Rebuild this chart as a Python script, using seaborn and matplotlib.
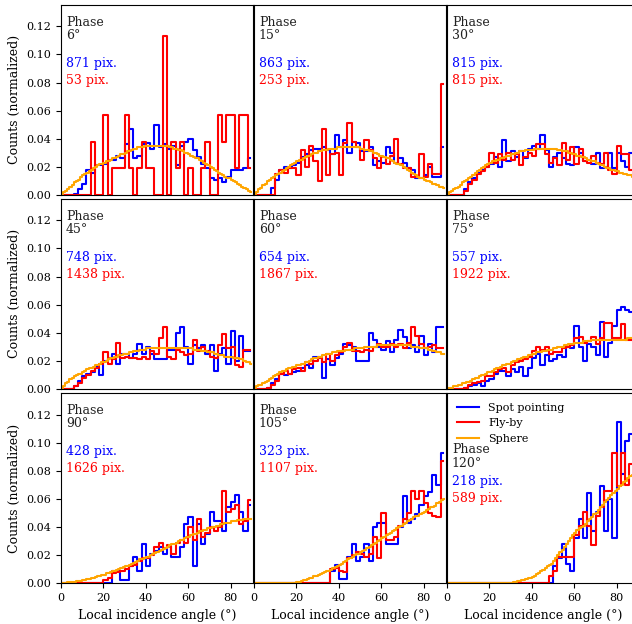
import numpy as np
import matplotlib
matplotlib.use("Agg")
import matplotlib.pyplot as plt
import seaborn as sns

plt.rcParams['font.family'] = ['DejaVu Serif']

# ---------------- data ----------------
phases = [6, 15, 30, 45, 60, 75, 90, 105, 120]
spot_pix = [871, 863, 815, 748, 654, 557, 428, 323, 218]
flyby_pix = [53, 253, 815, 1438, 1867, 1922, 1626, 1107, 589]

# 2-degree bins (0-2 ... 88-90) for Spot pointing / Fly-by, 1-degree bins for Sphere
angle_2deg = np.arange(1, 90, 2)
angle_1deg = np.arange(0.5, 90, 1)

spot_06 = [0, 0, 0, .001, .004, .008, .018, .016, .021, .021, .022, .025, .025, .028, .026, .036, .047, .026, .028, .036,
           .037, .033, .050, .034, .036, .033, .035, .021, .035, .038, .040, .032, .027, .022, .019, .012, .011, .012, .009, .013,
           .018, .018, .018, .019, .026]
flyby_06 = [0, 0, 0, 0, 0, 0, 0, .0377, 0, 0, .0566, 0, .0189, .0189, .0189, .0566, .0189, 0, .0189, .0377,
            .0189, .0189, 0, 0, .1132, 0, .0377, .0189, .0377, 0, .0189, 0, 0, .0189, .0377, 0, 0, .0566, .0377, .0566,
            .0566, .0189, .0566, .0566, .0189]
sphere_06 = [.001, .002, .003, .004, .006, .007, .009, .010, .011, .013,
             .014, .015, .016, .017, .018, .019, .020, .021, .022, .022,
             .023, .024, .024, .025, .026, .026, .027, .028, .029, .029,
             .030, .031, .031, .032, .033, .033, .034, .034, .034, .035,
             .035, .035, .035, .035, .035, .035, .035, .035, .035, .035,
             .035, .034, .034, .033, .033, .032, .032, .031, .030, .030,
             .029, .028, .027, .026, .026, .025, .024, .023, .022, .021,
             .020, .019, .018, .017, .016, .015, .014, .013, .012, .012,
             .011, .010, .009, .008, .007, .006, .005, .004, .003, .002]

spot_15 = [0, 0, 0, 0, .005, .011, .018, .020, .019, .021, .023, .027, .029, .032, .033, .033, .034, .032, .029, .043,
           .034, .039, .030, .038, .037, .031, .031, .034, .021, .024, .023, .034, .030, .023, .026, .023, .019, .018, .012, .012,
           .014, .020, .013, .013, .034]
flyby_15 = [0, 0, 0, 0, 0, .015, .018, .016, .019, .019, .014, .032, .020, .035, .024, .010, .047, .014, .029, .030,
            .014, .037, .051, .038, .034, .025, .039, .032, .026, .019, .027, .022, .028, .040, .022, .019, .019, .013, .013, .029,
            .013, .022, .015, .015, .079]
sphere_15 = [.001, .002, .004, .005, .007, .008, .010, .011, .012, .013,
             .014, .015, .016, .017, .018, .019, .020, .021, .022, .023,
             .024, .025, .025, .026, .027, .028, .028, .029, .030, .030,
             .031, .031, .032, .032, .032, .033, .033, .033, .033, .034,
             .034, .034, .034, .034, .034, .034, .034, .034, .034, .034,
             .033, .033, .032, .032, .031, .031, .030, .030, .029, .028,
             .028, .027, .026, .026, .025, .024, .023, .022, .022, .021,
             .020, .019, .018, .017, .016, .015, .014, .013, .012, .012,
             .011, .010, .010, .009, .008, .008, .007, .006, .006, .005]

spot_30 = [0, 0, 0, 0, .004, .009, .012, .016, .018, .020, .022, .027, .020, .039, .024, .031, .027, .031, .026, .033,
           .035, .033, .043, .032, .020, .027, .030, .026, .022, .021, .034, .030, .024, .025, .022, .030, .019, .020, .030, .019,
           .030, .024, .020, .030, .030]
flyby_30 = [0, 0, 0, 0, .003, .008, .011, .015, .017, .020, .030, .023, .029, .025, .030, .025, .029, .021, .027, .030,
            .028, .036, .036, .029, .023, .026, .021, .037, .025, .034, .022, .033, .024, .023, .028, .023, .022, .030, .018, .015,
            .035, .029, .029, .018, .018]
sphere_30 = [.001, .002, .003, .004, .005, .006, .007, .009, .010, .011,
             .012, .013, .014, .016, .017, .018, .019, .020, .021, .022,
             .023, .024, .024, .025, .025, .026, .026, .027, .028, .028,
             .029, .029, .030, .030, .031, .031, .031, .032, .032, .032,
             .032, .033, .033, .033, .033, .033, .033, .033, .033, .033,
             .033, .033, .032, .032, .031, .031, .031, .030, .030, .029,
             .029, .028, .028, .027, .027, .026, .025, .025, .024, .024,
             .023, .022, .021, .021, .020, .019, .019, .018, .018, .017,
             .017, .016, .016, .015, .015, .014, .014, .013, .013, .012]

spot_45 = [0, 0, 0, .002, .006, .009, .011, .012, .016, .010, .020, .022, .025, .018, .025, .025, .022, .025, .032, .025,
           .030, .025, .021, .021, .021, .028, .028, .040, .044, .030, .018, .031, .029, .031, .025, .031, .013, .025, .029, .018,
           .041, .020, .038, .027, .027]
flyby_45 = [0, 0, 0, .002, .004, .008, .010, .013, .015, .018, .026, .018, .021, .033, .022, .023, .022, .022, .021, .023,
            .021, .027, .025, .036, .044, .023, .021, .028, .026, .024, .025, .035, .027, .030, .027, .023, .022, .031, .039, .029,
            .030, .017, .016, .028, .028]
sphere_45 = [.001, .002, .004, .005, .007, .008, .009, .010, .011, .011,
             .012, .013, .014, .015, .015, .016, .017, .017, .018, .019,
             .019, .020, .021, .022, .022, .023, .023, .024, .024, .025,
             .025, .025, .026, .026, .027, .027, .027, .028, .028, .028,
             .029, .029, .029, .029, .029, .029, .029, .029, .029, .029,
             .029, .029, .029, .029, .029, .029, .029, .029, .029, .029,
             .029, .029, .028, .028, .028, .028, .027, .027, .027, .026,
             .026, .026, .025, .025, .024, .024, .024, .023, .023, .023,
             .023, .022, .022, .022, .021, .021, .020, .019, .019, .018]

spot_60 = [0, 0, 0, .001, .004, .007, .011, .010, .011, .012, .013, .015, .017, .015, .023, .023, .008, .021, .017, .022,
           .025, .032, .031, .030, .020, .020, .020, .040, .035, .030, .028, .034, .026, .035, .042, .037, .029, .031, .026, .038,
           .024, .032, .026, .044, .044]
flyby_60 = [0, 0, 0, .001, .003, .006, .011, .013, .011, .014, .015, .013, .019, .018, .020, .022, .019, .025, .020, .024,
            .026, .030, .033, .027, .027, .026, .028, .027, .030, .032, .030, .030, .032, .030, .032, .029, .033, .044, .038, .032,
            .029, .030, .031, .029, .029]
sphere_60 = [.001, .002, .003, .003, .004, .005, .006, .007, .008, .009,
             .010, .011, .012, .013, .013, .014, .015, .015, .016, .016,
             .017, .017, .018, .018, .019, .019, .020, .021, .022, .022,
             .023, .023, .024, .024, .025, .025, .025, .026, .026, .027,
             .027, .027, .027, .028, .028, .028, .028, .029, .029, .029,
             .029, .029, .030, .030, .030, .030, .030, .030, .031, .031,
             .031, .031, .031, .031, .031, .031, .031, .031, .031, .031,
             .031, .031, .031, .031, .030, .030, .030, .030, .029, .029,
             .029, .029, .028, .028, .027, .027, .026, .026, .025, .025]

spot_75 = [0, 0, 0, 0, .001, .002, .003, .004, .002, .006, .007, .011, .013, .013, .009, .014, .012, .016, .009, .015,
           .022, .025, .017, .024, .020, .021, .024, .023, .030, .029, .045, .030, .020, .032, .030, .024, .048, .023, .033, .045,
           .056, .058, .056, .055, .055]
flyby_75 = [0, 0, 0, 0, .001, .003, .004, .005, .006, .009, .009, .012, .014, .015, .012, .017, .019, .020, .021, .023,
            .027, .030, .028, .030, .025, .026, .026, .029, .030, .031, .036, .037, .033, .034, .037, .032, .036, .047, .047, .036,
            .036, .046, .035, .035, .035]
sphere_75 = [.0005, .001, .001, .002, .002, .003, .003, .004, .004, .005,
             .005, .006, .007, .008, .008, .009, .010, .010, .011, .012,
             .012, .013, .014, .015, .015, .016, .017, .017, .018, .018,
             .019, .020, .020, .021, .021, .022, .023, .023, .024, .024,
             .025, .025, .026, .026, .026, .027, .027, .028, .028, .028,
             .029, .029, .030, .030, .030, .031, .031, .032, .032, .032,
             .033, .033, .033, .033, .034, .034, .034, .034, .035, .035,
             .035, .035, .035, .035, .035, .035, .035, .035, .035, .035,
             .035, .035, .035, .035, .035, .036, .036, .036, .036, .036]

spot_90 = [0, 0, 0, 0, 0, 0, 0, 0, 0, 0, 0, 0, .009, .009, .002, .002, .012, .019, .009, .028,
           .012, .021, .023, .026, .021, .026, .019, .019, .026, .042, .047, .012, .042, .028, .035, .051, .044, .044, .037, .054,
           .058, .063, .051, .037, .056]
flyby_90 = [0, 0, 0, 0, 0, 0, 0, 0, 0, 0, .002, .004, .007, .008, .009, .010, .012, .013, .016, .018,
            .018, .020, .026, .029, .025, .027, .021, .029, .031, .029, .040, .031, .046, .033, .036, .040, .037, .040, .066, .051,
            .053, .056, .042, .044, .059]
sphere_90 = [0, .0002, .0004, .0006, .0008, .001, .001, .0014, .0016, .0018,
             .002, .0024, .003, .0034, .0038, .004, .0045, .005, .0055, .006,
             .006, .007, .0075, .008, .0085, .009, .0095, .010, .011, .0115,
             .012, .0125, .013, .014, .0145, .015, .016, .017, .0175, .018,
             .019, .019, .020, .021, .0215, .022, .023, .024, .0245, .025,
             .026, .027, .028, .028, .029, .030, .031, .031, .032, .033,
             .033, .034, .035, .035, .036, .037, .037, .038, .038, .039,
             .039, .040, .040, .041, .041, .042, .042, .043, .043, .043,
             .044, .044, .044, .045, .045, .045, .046, .046, .046, .046]

spot_105 = [0, 0, 0, 0, 0, 0, 0, 0, 0, 0, 0, 0, 0, 0, 0, 0, 0, 0, .009, .013,
            .003, .003, .019, .028, .016, .019, .028, .016, .040, .043, .043, .028, .028, .028, .040, .062, .043, .046, .049, .056,
            .062, .065, .077, .070, .093]
flyby_105 = [0, 0, 0, 0, 0, 0, 0, 0, 0, 0, 0, 0, 0, 0, 0, 0, 0, 0, .010, .011,
             .009, .008, .018, .020, .022, .021, .019, .021, .033, .018, .050, .031, .031, .033, .041, .046, .050, .066, .060, .066,
             .057, .050, .048, .047, .087]
sphere_105 = [0, 0, 0, 0, 0, 0, 0, 0, 0, 0,
              0, 0, 0, 0, 0, 0, 0, 0, 0, .0003,
              .001, .0012, .0016, .002, .0025, .003, .0035, .004, .005, .0055,
              .006, .0066, .0072, .0078, .0084, .009, .0098, .0106, .0114, .0122,
              .013, .014, .015, .016, .017, .018, .019, .020, .021, .021,
              .022, .023, .024, .025, .026, .027, .028, .029, .030, .031,
              .032, .033, .034, .035, .036, .037, .038, .039, .040, .041,
              .042, .043, .044, .045, .046, .047, .048, .048, .049, .050,
              .051, .052, .053, .054, .054, .055, .057, .058, .059, .060]

spot_120 = [0, 0, 0, 0, 0, 0, 0, 0, 0, 0, 0, 0, 0, 0, 0, 0, 0, 0, 0, 0,
            0, 0, 0, 0, 0, .012, .018, .028, .014, .009, .032, .046, .032, .064, .037, .051, .069, .037, .060, .032,
            .115, .078, .101, .106, .106]
flyby_120 = [0, 0, 0, 0, 0, 0, 0, 0, 0, 0, 0, 0, 0, 0, 0, 0, 0, 0, 0, 0,
             0, 0, 0, 0, .005, .009, .019, .019, .019, .019, .034, .041, .051, .041, .027, .048, .054, .066, .066, .093,
             .069, .093, .070, .085, .085]
sphere_120 = [0, 0, 0, 0, 0, 0, 0, 0, 0, 0,
              0, 0, 0, 0, 0, 0, 0, 0, 0, 0,
              0, 0, 0, 0, 0, 0, 0, 0, 0, 0,
              .0005, .0008, .001, .0013, .0016, .002, .0025, .003, .0035, .004,
              .0045, .0055, .0065, .0075, .0085, .0095, .011, .012, .013, .014,
              .016, .018, .020, .022, .024, .026, .028, .030, .032, .034,
              .036, .038, .039, .040, .041, .042, .044, .046, .047, .049,
              .050, .052, .054, .056, .058, .059, .061, .063, .064, .066,
              .067, .069, .070, .072, .073, .075, .076, .077, .078, .079]

spot_all = [spot_06, spot_15, spot_30, spot_45, spot_60, spot_75, spot_90, spot_105, spot_120]
flyby_all = [flyby_06, flyby_15, flyby_30, flyby_45, flyby_60, flyby_75, flyby_90, flyby_105, flyby_120]
sphere_all = [sphere_06, sphere_15, sphere_30, sphere_45, sphere_60, sphere_75, sphere_90, sphere_105, sphere_120]

# ---------------- figure ----------------
W, H = 632, 624
fig = plt.figure(figsize=(W / 100, H / 100), dpi=100)

col_left_px = [61, 254, 447]
row_bottom_px = [195, 389, 583.3]
ax_w_px, ax_h_px = 192, 190.5

axes = []
for r in range(3):
    for c in range(3):
        ax = fig.add_axes([col_left_px[c] / W, (H - row_bottom_px[r]) / H, ax_w_px / W, ax_h_px / H])
        axes.append((ax, r, c))

for i, (ax, r, c) in enumerate(axes):
    sns.lineplot(x=angle_2deg, y=spot_all[i], ax=ax, color='blue', linewidth=1.5,
                 drawstyle='steps-mid', estimator=None, legend=False, label='Spot pointing')
    sns.lineplot(x=angle_2deg, y=flyby_all[i], ax=ax, color='red', linewidth=1.5,
                 drawstyle='steps-mid', estimator=None, legend=False, label='Fly-by')
    sns.lineplot(x=angle_1deg, y=sphere_all[i], ax=ax, color='orange', linewidth=1.5,
                 drawstyle='steps-mid', estimator=None, legend=False, label='Sphere')
    ax.set_xlim(0, 90.5)
    ax.set_ylim(0, 0.1355)
    ax.set_xticks([0, 20, 40, 60, 80])
    ax.set_yticks([0, 0.02, 0.04, 0.06, 0.08, 0.10, 0.12])
    ax.yaxis.set_major_formatter(matplotlib.ticker.FormatStrFormatter('%.2f'))
    ax.tick_params(labelsize=8)
    ax.set_xlabel('')
    ax.set_ylabel('')
    for sp in ax.spines.values():
        sp.set_color('black')
    if c == 0:
        ax.set_ylabel('Counts (normalized)', fontsize=9)
    else:
        ax.tick_params(left=False, labelleft=False)
    if r == 2:
        ax.set_xlabel('Local incidence angle (°)', fontsize=9)
    else:
        ax.tick_params(bottom=False, labelbottom=False)

    if i < 8:
        y_phase, y_blue, y_red = 0.872, 0.69, 0.60
    else:
        y_phase, y_blue, y_red = 0.665, 0.535, 0.445
        ax.legend(loc='upper left', frameon=False, fontsize=8)
    ax.text(0.025, y_phase, f"Phase\n{phases[i]}°", transform=ax.transAxes,
            ha='left', va='center', fontsize=9, color='#222222', linespacing=1.05)
    ax.text(0.025, y_blue, f"{spot_pix[i]} pix.", transform=ax.transAxes,
            ha='left', va='center', fontsize=9, color='blue')
    ax.text(0.025, y_red, f"{flyby_pix[i]} pix.", transform=ax.transAxes,
            ha='left', va='center', fontsize=9, color='red')

fig.savefig('out.png', dpi=100)
